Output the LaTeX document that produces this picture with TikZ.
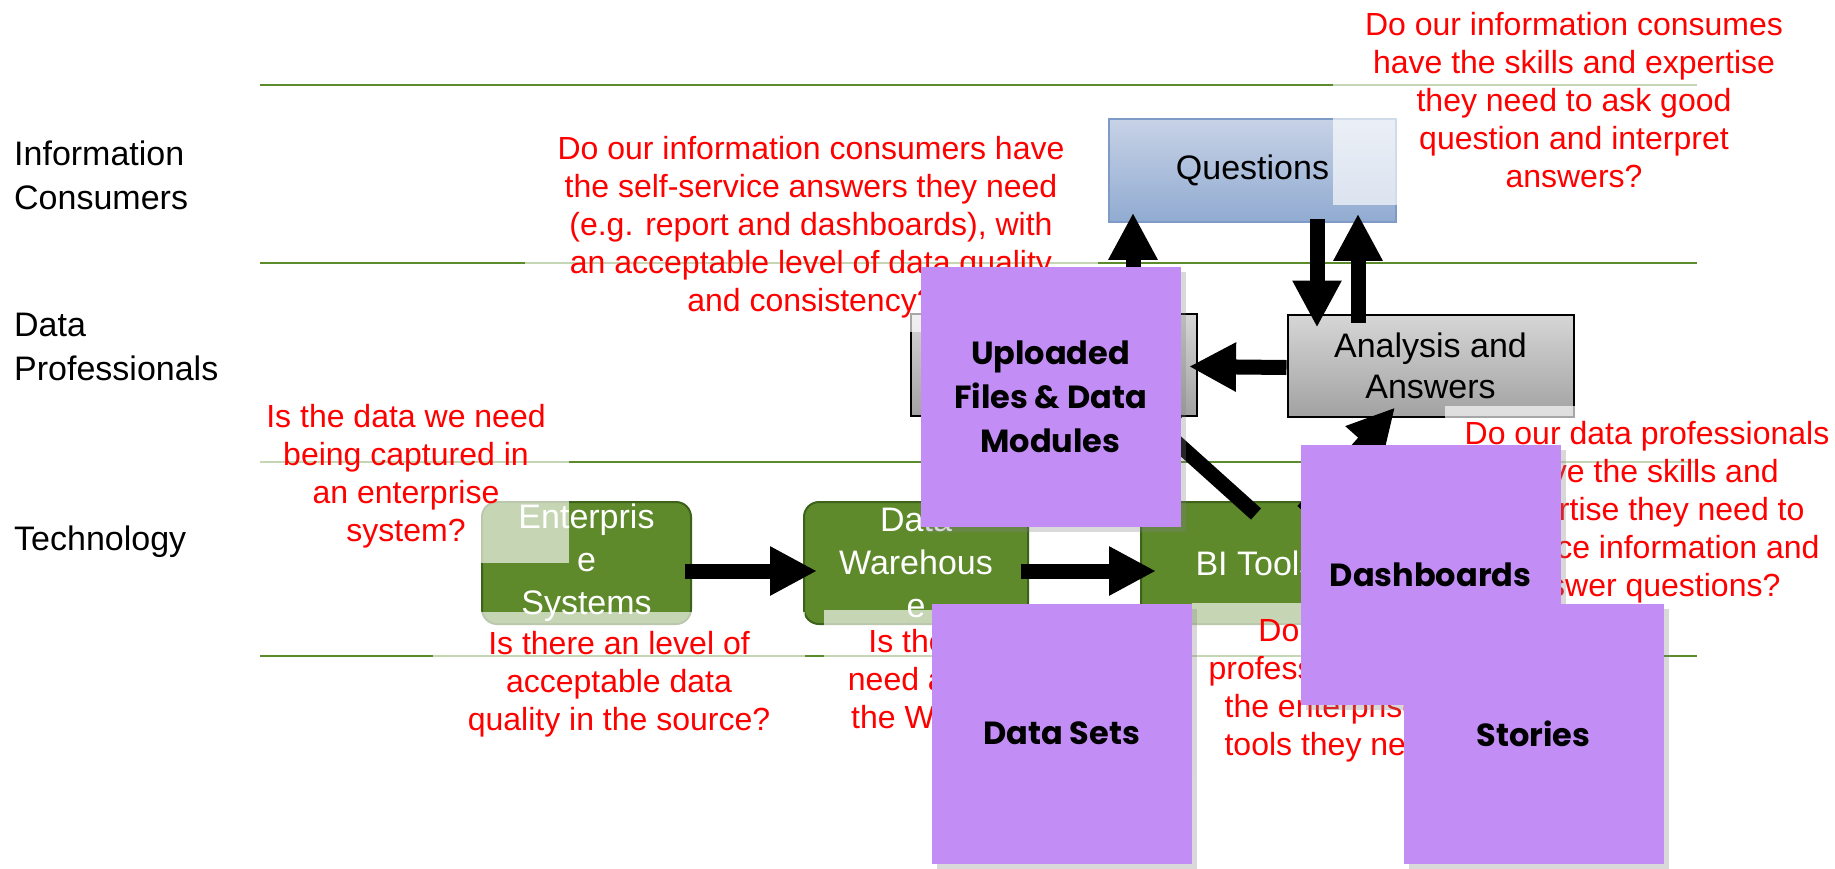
\documentclass[tikz,border=0pt]{standalone}
\usepackage{fontspec}
\setmainfont{Liberation Sans}
\newfontfamily\notefont{Poppins}
\usetikzlibrary{arrows.meta,shadows}

\definecolor{lanegreen}{HTML}{5B8B2B}
\definecolor{techgreen}{HTML}{5E8A2C}
\definecolor{techedge}{HTML}{3D6219}
\definecolor{notepurple}{HTML}{C28EF6}
\definecolor{qtop}{HTML}{C7D2E6}
\definecolor{qbottom}{HTML}{91ABD1}
\definecolor{qedge}{HTML}{7E9BC8}
\definecolor{greytop}{HTML}{D6D6D6}
\definecolor{greybottom}{HTML}{A2A2A2}
\definecolor{asktext}{HTML}{FF0000}

\begin{document}
\begin{tikzpicture}[x=1pt,y=-1pt,
    lane/.style={draw=lanegreen,line width=2.5pt},
    lane label/.style={anchor=west,align=left,inner sep=0pt,font=\fontsize{34}{44}\selectfont},
    tech node/.style={draw=techedge,line width=2pt,fill=techgreen,rounded corners=15pt,text=white,
        align=center,minimum height=122pt,inner sep=0pt,font=\fontsize{34}{43}\selectfont},
    work node/.style={draw=black,line width=2pt,top color=greytop,bottom color=greybottom,
        minimum width=286pt,minimum height=102pt,align=center,font=\fontsize{34}{41}\selectfont},
    question node/.style={draw=qedge,line width=1.5pt,top color=qtop,bottom color=qbottom,
        minimum width=287pt,minimum height=103pt,font=\fontsize{34}{41}\selectfont},
    ask node/.style={text=asktext,fill=white,fill opacity=0.65,text opacity=1,align=center,
        inner sep=0pt,font=\fontsize{32}{38}\selectfont},
    note/.style={fill=notepurple,minimum width=260pt,minimum height=260pt,inner sep=0pt,align=center,
        font=\notefont\bfseries\fontsize{32}{44}\selectfont,
        drop shadow={shadow xshift=5pt,shadow yshift=-5pt,opacity=0.3}},
    fat/.style={line width=15pt,-{Triangle[width=46pt,length=47pt]}}]
    \useasboundingbox (0,0) rectangle (1835,868);

    % swim lanes
    \draw[lane] (260,85) -- (1697,85);
    \draw[lane] (260,263) -- (1697,263);
    \draw[lane] (260,462) -- (1697,462);
    \draw[lane] (260,656) -- (1697,656);

    \node[lane label] (consumers) at (14,175) {Information\\Consumers};
    \node[lane label] (professionals) at (14,347) {Data\\Professionals};
    \node[lane label] (technology) at (14,542) {Technology};

    % boxes
    \node[tech node,minimum width=209pt] (ent) at (586.5,563) {Enterpris\\e\\Systems};
    \node[tech node,minimum width=224pt] (dw) at (916,563) {Data\\Warehous\\e};
    \node[tech node,minimum width=230pt] (bi) at (1256,563) {BI Tools};
    \node[work node] (rep) at (1054,364.5) {};
    \node[work node] (ana) at (1430.5,365.5) {Analysis and\\Answers};
    \node[question node] (ques) at (1252.5,170.5) {Questions};

    \draw[fat] ([xshift=-7pt,yshift=-8pt]ent.east) -- ([xshift=14pt,yshift=-8pt]dw.west);
    \draw[fat] ([xshift=-8pt,yshift=-8pt]dw.east) -- ([xshift=16pt,yshift=-8pt]bi.west);
    \draw[fat] ([xshift=79pt]rep.north) -- ([xshift=-119.5pt,yshift=10pt]ques.south);
    \draw[fat] ([xshift=64.5pt,yshift=4pt]ques.south) -- ([xshift=-113.5pt,yshift=-14pt]ana.north);
    \draw[fat] ([xshift=-72.5pt,yshift=-9pt]ana.north) -- ([xshift=105.5pt,yshift=9pt]ques.south);
    \draw[fat] ([yshift=-2pt]ana.west) -- ([xshift=-9pt,yshift=-2pt]rep.east);
    \draw[fat] ([yshift=-13pt]bi.north) -- ([xshift=78pt,yshift=14pt]rep.south);
    \draw[fat] ([xshift=47pt,yshift=-10pt]bi.north) -- ([xshift=-35.5pt,yshift=10pt]ana.south);

    % questions to ask
    \node[ask node,minimum width=482pt,minimum height=210pt] (q-skills) at (1574,100)
        {Do our information consumes\\have the skills and expertise\\they need to ask good\\question and interpret\\answers?};
    \node[ask node,minimum width=573pt,minimum height=210pt] (q-selfserve) at (811,227)
        {Do our information consumers have\\the self-service answers they need\\(e.g. report and dashboards), with\\an acceptable level of data quality\\and consistency?};
    \node[ask node,minimum width=326pt,minimum height=174pt] (q-captured) at (406,476)
        {Is the data we need\\being captured in\\an enterprise\\system?};
    \node[ask node,minimum width=372pt,minimum height=144pt] (q-source) at (619,684)
        {Is there an level of\\acceptable data\\quality in the source?};
    \node[ask node,minimum width=288pt,minimum height=138pt] (q-warehouse) at (968,679)
        {Is the data we\\need available in\\the Warehouse?};
    \node[ask node,minimum width=300pt,minimum height=174pt] (q-tools) at (1342,690)
        {Do our data\\professionals have\\the enterprise BI\\tools they need?};
    \node[ask node,minimum width=404pt,minimum height=212pt] (q-pro) at (1647,512)
        {Do our data professionals\\have the skills and\\expertise they need to\\produce information and\\answer questions?};

    % sticky notes
    \node[note] (uploaded) at (1050.5,397) {Uploaded\\Files \& Data\\Modules};
    \node[note] (datasets) at (1061.5,733.5) {Data Sets};
    \node[note] (dashboards) at (1430.5,575) {Dashboards};
    \node[note] (stories) at (1533.5,733.5) {Stories};
\end{tikzpicture}
\end{document}
